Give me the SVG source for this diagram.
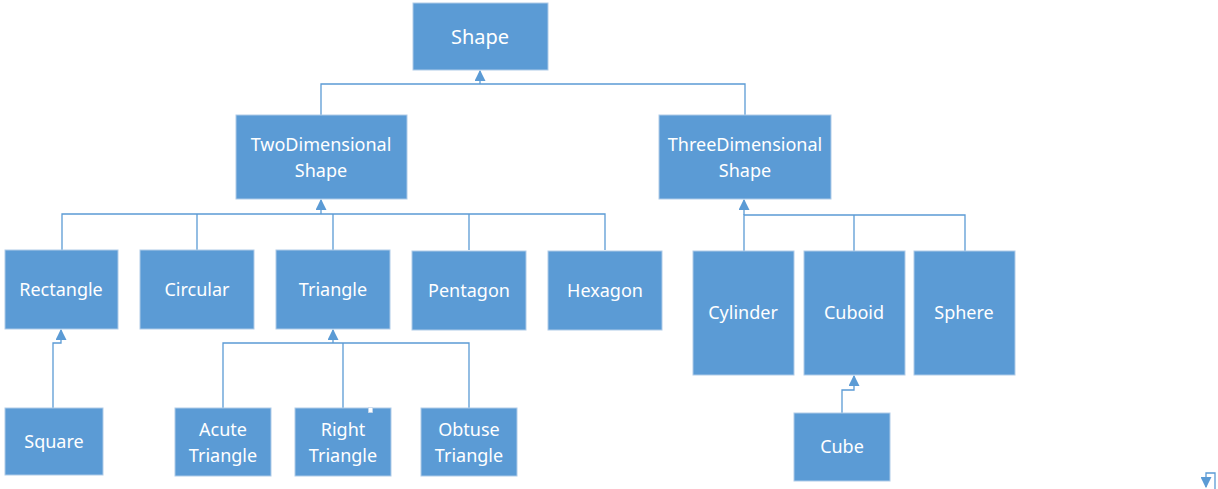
<svg xmlns="http://www.w3.org/2000/svg" width="1218" height="489" viewBox="0 0 1218 489">
<style>
.box{fill:#5B9BD5;stroke:#AFCBE8;stroke-width:1}
.t{font-family:"Noto Sans","Liberation Sans",sans-serif;font-size:18px;fill:#FFFFFF;text-anchor:middle}
.big{font-size:20px}
.c{fill:none;stroke:#5B9BD5;stroke-width:1.3}
</style>
<defs>
<marker id="ah" viewBox="0 0 10 10" refX="9" refY="5" markerWidth="11" markerHeight="11" markerUnits="userSpaceOnUse" orient="auto">
<path d="M0,0 L10,5 L0,10 z" fill="#5B9BD5"/>
</marker>
</defs>
<rect width="1218" height="489" fill="#FFFFFF"/>
<g id="connectors">
<path class="c" d="M321,115 V84 H745 V115"/>
<path class="c" d="M480,84 V71" marker-end="url(#ah)"/>
<path class="c" d="M62,250 V214 H605 V250 M197,214 V250 M333,214 V250 M469,214 V250"/>
<path class="c" d="M321,214 V200" marker-end="url(#ah)"/>
<path class="c" d="M744,251 V215 H965 V251 M854,215 V251"/>
<path class="c" d="M744,215 V200" marker-end="url(#ah)"/>
<path class="c" d="M53,408 V343 H61 V330" marker-end="url(#ah)"/>
<path class="c" d="M223,408 V343 H469 V408 M343,343 V408"/>
<path class="c" d="M333,343 V330" marker-end="url(#ah)"/>
<path class="c" d="M842,413 V390 H854 V376" marker-end="url(#ah)"/>
<path class="c" d="M1215,489 V473 H1206 V487" marker-end="url(#ah)"/>
</g>
<g id="shape"><rect class="box" x="413" y="3" width="135" height="67"/><text class="t big" x="480" y="44">Shape</text></g>
<g id="two"><rect class="box" x="236" y="115" width="171" height="84"/><text class="t" x="321" y="151">TwoDimensional</text><text class="t" x="321" y="177">Shape</text></g>
<g id="three"><rect class="box" x="659" y="115" width="172" height="84"/><text class="t" x="745" y="151">ThreeDimensional</text><text class="t" x="745" y="177">Shape</text></g>
<g id="rectangle"><rect class="box" x="5" y="250" width="113" height="79"/><text class="t" x="61" y="296">Rectangle</text></g>
<g id="circular"><rect class="box" x="140" y="250" width="114" height="79"/><text class="t" x="197" y="296">Circular</text></g>
<g id="triangle"><rect class="box" x="276" y="250" width="114" height="79"/><text class="t" x="333" y="296">Triangle</text></g>
<g id="pentagon"><rect class="box" x="412" y="251" width="114" height="79"/><text class="t" x="469" y="297">Pentagon</text></g>
<g id="hexagon"><rect class="box" x="548" y="251" width="114" height="79"/><text class="t" x="605" y="297">Hexagon</text></g>
<g id="square"><rect class="box" x="5" y="408" width="98" height="67"/><text class="t" x="54" y="448">Square</text></g>
<g id="acute"><rect class="box" x="175" y="408" width="96" height="68"/><text class="t" x="223" y="436">Acute</text><text class="t" x="223" y="462">Triangle</text></g>
<g id="right"><rect class="box" x="295" y="408" width="96" height="68"/><text class="t" x="343" y="436">Right</text><text class="t" x="343" y="462">Triangle</text></g>
<rect x="368.500" y="407.500" width="4" height="5" fill="#FFFFFF" stroke="#C8D8EA" stroke-width="0.8"/>
<g id="obtuse"><rect class="box" x="421" y="408" width="96" height="68"/><text class="t" x="469" y="436">Obtuse</text><text class="t" x="469" y="462">Triangle</text></g>
<g id="cylinder"><rect class="box" x="693" y="251" width="101" height="124"/><text class="t" x="743" y="319">Cylinder</text></g>
<g id="cuboid"><rect class="box" x="804" y="251" width="101" height="124"/><text class="t" x="854" y="319">Cuboid</text></g>
<g id="sphere"><rect class="box" x="914" y="251" width="101" height="124"/><text class="t" x="964" y="319">Sphere</text></g>
<g id="cube"><rect class="box" x="794" y="413" width="96" height="68"/><text class="t" x="842" y="453">Cube</text></g>
</svg>
